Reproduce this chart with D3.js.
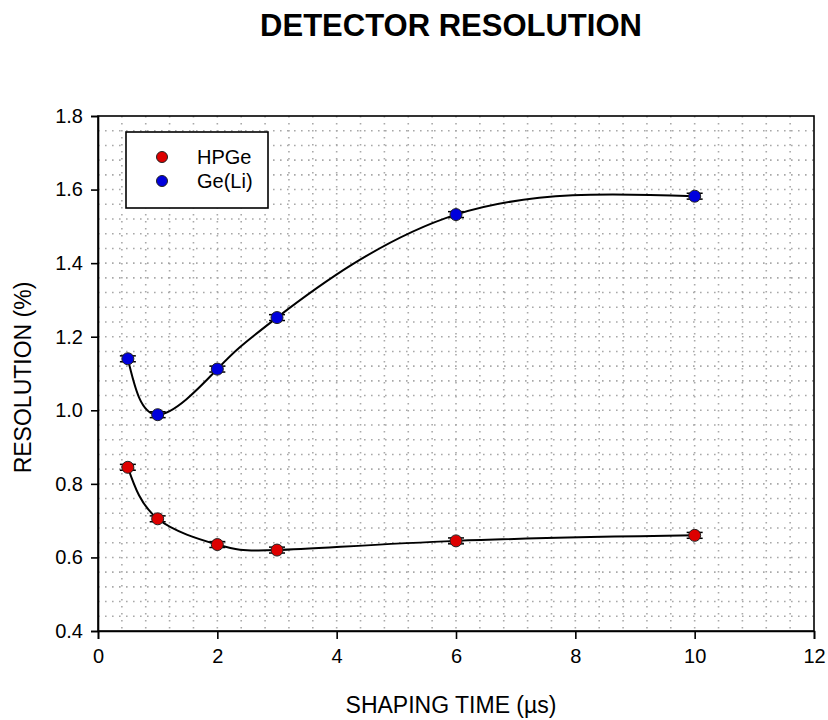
<!DOCTYPE html>
<html>
<head>
<meta charset="utf-8">
<script src="https://cdnjs.cloudflare.com/ajax/libs/d3/7.8.5/d3.min.js"></script>
<style>
  body { margin: 0; background: #fff; }
  text { font-family: "Liberation Sans", Arial, sans-serif; fill: #000; }
</style>
</head>
<body>
<div id="chart"></div>
<script>
// shaping times (µs)
const shapingTimes = [0.5, 1, 2, 3, 6, 10];
// resolution (%) per detector
const hpgeValues = [0.845, 0.705, 0.635, 0.62, 0.645, 0.66];
const geliValues = [1.14, 0.988, 1.112, 1.252, 1.532, 1.582];
const errorSize = 0.008;
const seriesNames = ["HPGe", "Ge(Li)"];
const seriesColors = ["#dd0000", "#0000dd"];
const xTicks = [0, 2, 4, 6, 8, 10, 12];
const yTicks = [0.4, 0.6, 0.8, 1.0, 1.2, 1.4, 1.6, 1.8];

const W = 828, H = 720;
const margin = {top: 116, right: 14, bottom: 89, left: 98};
const width = W - margin.left - margin.right;
const height = H - margin.top - margin.bottom;

let svg = d3.select("#chart").append("svg")
    .attr("width", W)
    .attr("height", H);

svg.append("text")
    .attr("x", 451).attr("y", 36)
    .attr("text-anchor", "middle")
    .attr("font-size", 31)
    .attr("font-weight", "bold")
    .text("DETECTOR RESOLUTION");

let g = svg.append("g").attr("transform", "translate(" + margin.left + "," + margin.top + ")");

let x = d3.scaleLinear().domain([0, 12]).range([0, width]);
let y = d3.scaleLinear().domain([0.4, 1.8]).range([height, 0]);

// dotted grid
g.append("g")
    .selectAll("line")
    .data(d3.range(0.4, 12, 0.4))
    .enter().append("line")
    .attr("x1", d => x(d)).attr("x2", d => x(d))
    .attr("y1", 0).attr("y2", height)
    .attr("stroke", "#a8a8a8")
    .attr("stroke-width", 1.6)
    .attr("stroke-dasharray", "1.6,5.4");

g.append("g")
    .selectAll("line")
    .data(d3.range(1, 35).map(i => 0.4 + i * 0.04))
    .enter().append("line")
    .attr("x1", 0).attr("x2", width)
    .attr("y1", d => y(d)).attr("y2", d => y(d))
    .attr("stroke", "#a8a8a8")
    .attr("stroke-width", 1.6)
    .attr("stroke-dasharray", "1.6,5.4");

// frame
g.append("rect")
    .attr("width", width).attr("height", height)
    .attr("fill", "none")
    .attr("stroke", "#000")
    .attr("stroke-width", 1.6);

// axes
let xAxis = g.append("g")
    .attr("transform", "translate(0," + height + ")")
    .call(d3.axisBottom(x).tickValues(xTicks).tickSize(8).tickPadding(10).tickFormat(d3.format("d")));
let yAxis = g.append("g")
    .call(d3.axisLeft(y).tickValues(yTicks).tickSize(7).tickPadding(8).tickFormat(d3.format(".1f")));
[xAxis, yAxis].forEach(a => {
    a.select(".domain").attr("stroke", "#000").attr("stroke-width", 1.6);
    a.selectAll(".tick line").attr("stroke", "#000").attr("stroke-width", 1.6);
    a.selectAll(".tick text").attr("font-size", 20).attr("font-family", "Liberation Sans, Arial, sans-serif").attr("fill", "#000");
});

svg.append("text")
    .attr("x", 451).attr("y", 713)
    .attr("text-anchor", "middle")
    .attr("font-size", 23)
    .text("SHAPING TIME (\u00b5s)");

svg.append("text")
    .attr("transform", "translate(31," + (margin.top + height / 2 + 4) + ") rotate(-90)")
    .attr("text-anchor", "middle")
    .attr("font-size", 23)
    .text("RESOLUTION (%)");

// series
const series = [hpgeValues, geliValues];
let line = d3.line()
    .x(d => x(d.t))
    .y(d => y(d.v))
    .curve(d3.curveNatural);

series.forEach((vals, si) => {
    let pts = shapingTimes.map((t, i) => ({t: t, v: vals[i]}));
    g.append("path")
        .datum(pts)
        .attr("d", line)
        .attr("fill", "none")
        .attr("stroke", "#000")
        .attr("stroke-width", 2);

    let eb = g.append("g").selectAll("g").data(pts).enter().append("g");
    eb.append("line")
        .attr("x1", d => x(d.t)).attr("x2", d => x(d.t))
        .attr("y1", d => y(d.v + errorSize)).attr("y2", d => y(d.v - errorSize))
        .attr("stroke", "#000").attr("stroke-width", 1.5);
    [errorSize, -errorSize].forEach(e => {
        eb.append("line")
            .attr("x1", d => x(d.t) - 8).attr("x2", d => x(d.t) + 8)
            .attr("y1", d => y(d.v + e)).attr("y2", d => y(d.v + e))
            .attr("stroke", "#000").attr("stroke-width", 1.5);
    });

    g.append("g").selectAll("circle").data(pts).enter().append("circle")
        .attr("cx", d => x(d.t)).attr("cy", d => y(d.v))
        .attr("r", 6)
        .attr("fill", seriesColors[si])
        .attr("stroke", "#222")
        .attr("stroke-width", 1);
});

// legend
let legend = svg.append("g");
legend.append("rect")
    .attr("x", 126).attr("y", 132)
    .attr("width", 142).attr("height", 76)
    .attr("fill", "#fff")
    .attr("stroke", "#000")
    .attr("stroke-width", 1.6);
let items = legend.selectAll("g.item").data(seriesNames).enter().append("g")
    .attr("transform", (d, i) => "translate(0," + (157 + i * 24) + ")");
items.append("circle")
    .attr("cx", 162).attr("cy", 0).attr("r", 5.5)
    .attr("fill", (d, i) => seriesColors[i])
    .attr("stroke", "#222").attr("stroke-width", 1);
items.append("text")
    .attr("x", 197).attr("y", 0)
    .attr("dy", "0.35em")
    .attr("font-size", 20)
    .text(d => d);
</script>
</body>
</html>
